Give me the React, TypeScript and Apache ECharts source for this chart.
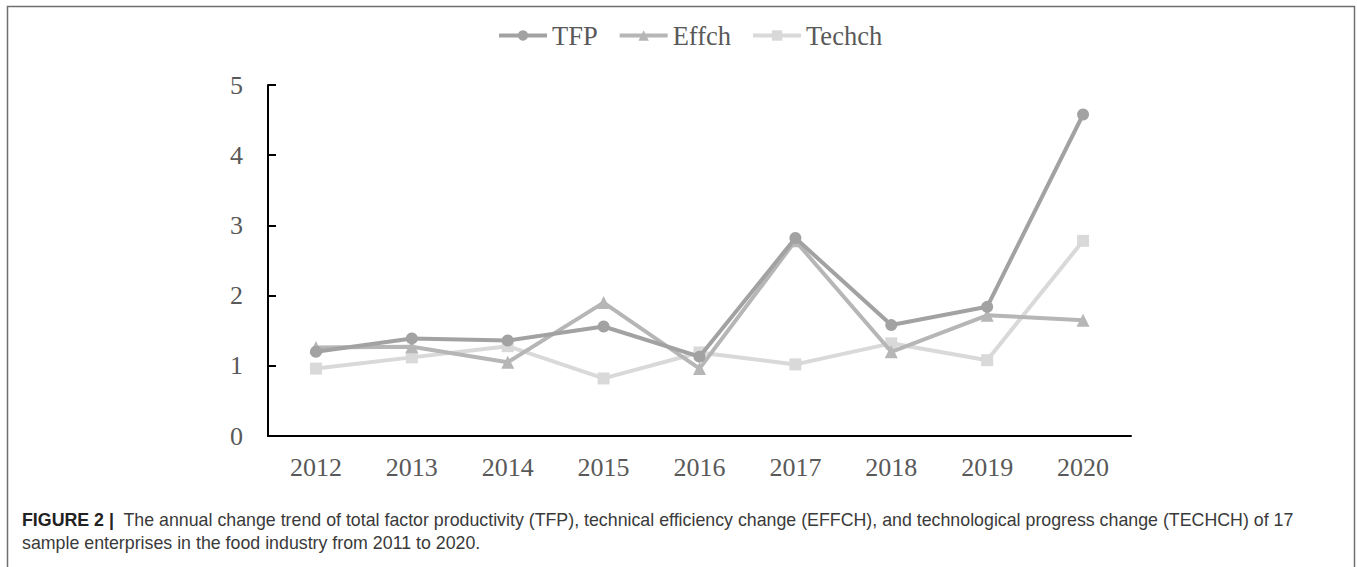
import React, { useEffect, useRef } from "react";
import * as echarts from "echarts";

const years = ["2012", "2013", "2014", "2015", "2016", "2017", "2018", "2019", "2020"];
const tfp = [1.2, 1.39, 1.36, 1.56, 1.13, 2.82, 1.58, 1.84, 4.58];
const effch = [1.26, 1.27, 1.05, 1.9, 0.96, 2.78, 1.2, 1.72, 1.65];
const techch = [0.96, 1.12, 1.28, 0.82, 1.19, 1.02, 1.32, 1.08, 2.78];
const yTicks = [0, 1, 2, 3, 4, 5];

const captionBold = "FIGURE 2 |";
const captionLine1 =
  "The annual change trend of total factor productivity (TFP), technical efficiency change (EFFCH), and technological progress change (TECHCH) of 17";
const captionLine2 = "sample enterprises in the food industry from 2011 to 2020.";

export default function App() {
  const ref = useRef<HTMLDivElement>(null);
  useEffect(() => {
    if (!ref.current) return;
    const chart = echarts.init(ref.current, undefined, { renderer: "svg" });
    const serif = "Liberation Serif";
    const sans = "'Liberation Sans', Arial, sans-serif";
    chart.setOption({
      animation: false,
      backgroundColor: "#fff",
      legend: {
        top: 17,
        left: 492,
        itemWidth: 48,
        itemHeight: 13,
        itemGap: 20,
        lineStyle: { width: 4 },
        textStyle: { fontFamily: serif, fontSize: 26.5, color: "#595959" },
        data: ["TFP", "Effch", "Techch"],
      },
      grid: { left: 268, right: 226, top: 85, bottom: 131 },
      xAxis: {
        type: "category",
        data: years,
        boundaryGap: true,
        axisLine: { lineStyle: { color: "#000", width: 2 } },
        axisTick: { inside: true, length: 8, interval: 0, lineStyle: { color: "#000", width: 2 } },
        axisLabel: { fontFamily: serif, fontSize: 26, color: "#595959", margin: 18 },
      },
      yAxis: {
        type: "value",
        min: yTicks[0],
        max: yTicks[yTicks.length - 1],
        interval: 1,
        splitLine: { show: false },
        axisLine: { show: true, lineStyle: { color: "#000", width: 2 } },
        axisTick: { show: true, inside: true, length: 8, lineStyle: { color: "#000", width: 2 } },
        axisLabel: { fontFamily: serif, fontSize: 26, color: "#595959", margin: 25 },
      },
      series: [
        {
          name: "TFP",
          type: "line",
          data: tfp,
          symbol: "circle",
          symbolSize: 12,
          itemStyle: { color: "#a2a2a2" },
          lineStyle: { color: "#a2a2a2", width: 4 },
          z: 4,
        },
        {
          name: "Effch",
          type: "line",
          data: effch,
          symbol: "triangle",
          symbolSize: 13,
          itemStyle: { color: "#b6b6b6" },
          lineStyle: { color: "#b6b6b6", width: 4 },
          z: 3,
        },
        {
          name: "Techch",
          type: "line",
          data: techch,
          symbol: "rect",
          symbolSize: 12,
          itemStyle: { color: "#d9d9d9" },
          lineStyle: { color: "#d9d9d9", width: 4 },
          z: 2,
        },
      ],
      graphic: [
        {
          type: "rect",
          shape: { x: 7.5, y: 6.5, width: 1347, height: 580 },
          style: { fill: "none", stroke: "#6f6f6f", lineWidth: 1.5 },
          silent: true,
        },
        {
          type: "text",
          x: 22,
          y: 520,
          style: {
            text: "{b|" + captionBold + "}{n|  " + captionLine1 + "}",
            verticalAlign: "middle",
            rich: {
              b: { font: "bold 17.8px " + sans, fill: "#222" },
              n: { font: "17.8px " + sans, fill: "#3a3a3a" },
            },
          },
        },
        {
          type: "text",
          x: 22,
          y: 543,
          style: {
            text: captionLine2,
            verticalAlign: "middle",
            font: "17.8px " + sans,
            fill: "#3a3a3a",
          },
        },
      ],
    });
    return () => chart.dispose();
  }, []);
  return (
    <div
      ref={ref}
      style={{ position: "fixed", left: 0, top: 0, width: 1357, height: 567 }}
    />
  );
}
